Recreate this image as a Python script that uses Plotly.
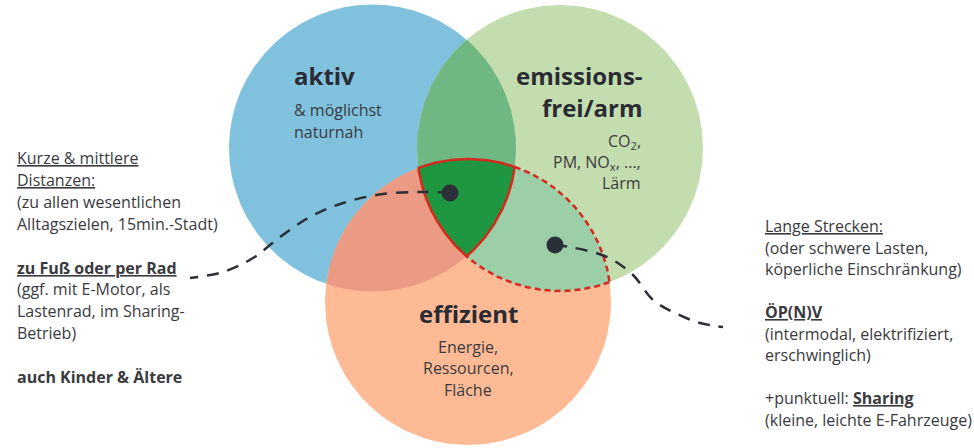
import numpy as np
import plotly.graph_objects as go

W, H = 974, 448

# ---- Venn sets (centre / radius in pixel space) ----
set_names = ["aktiv", "emissionsfrei/arm", "effizient"]
center_x = [372.5, 560.0, 468.0]
center_y = [148.0, 148.0, 302.0]
radius = [143.5, 143.0, 143.0]

# ---- Texts ----
title_aktiv = ["aktiv"]
sub_aktiv = ["&amp; möglichst", "naturnah"]
title_emis = ["emissions-", "frei/arm"]
sub_emis = ["CO<sub>2</sub>,", "PM, NO<sub>x</sub>, ...,", "Lärm"]
title_eff = ["effizient"]
sub_eff = ["Energie,", "Ressourcen,", "Fläche"]

U = "<span style='text-decoration:underline'>{}</span>"
left_lines = [
    U.format("Kurze &amp; mittlere"),
    U.format("Distanzen:"),
    "(zu allen wesentlichen",
    "Alltagszielen, 15min.-Stadt)",
    "",
    "<b>" + U.format("zu Fuß oder per Rad") + "</b>",
    "(ggf. mit E-Motor, als",
    "Lastenrad, im Sharing-",
    "Betrieb)",
    "",
    "<b>auch Kinder &amp; Ältere</b>",
]
right_lines = [
    U.format("Lange Strecken:"),
    "(oder schwere Lasten,",
    "köperliche Einschränkung)",
    "",
    "<b>" + U.format("ÖP(N)V") + "</b>",
    "(intermodal, elektrifiziert,",
    "erschwinglich)",
    "",
    "+punktuell: <b>" + U.format("Sharing") + "</b>",
    "(kleine, leichte E-Fahrzeuge)",
]

# connector paths (dot -> text)
left_conn_x = [450, 423, 383, 343, 310, 280, 253, 223, 190]
left_conn_y = [193, 192, 194, 203, 217, 237, 258, 272, 278]
right_conn_x = [555, 570, 607, 633, 653, 675, 700, 723]
right_conn_y = [245, 247, 257, 275, 300, 313, 323, 327]

# colours
C_BLUE = "#80c1de"
C_GREEN = "#c4ddaf"
C_ORANGE = "#fdba95"
C_BG = "#6fb884"
C_BO = "#eb9b84"
C_GO = "#9ccea8"
C_ALL = "#1f9741"
C_RED = "#d42a1e"
C_DARK = "#2b2f38"
C_TEXT = "#3a3a3e"
FONT = "Open Sans"

cx = np.array(center_x)
cy = np.array(center_y)
rr = np.array(radius)


def arc(i, inside=(), outside=(), n=2880):
    t = np.linspace(0, 2 * np.pi, n, endpoint=False)
    x = cx[i] + rr[i] * np.cos(t)
    y = cy[i] + rr[i] * np.sin(t)
    m = np.ones(n, bool)
    for j in inside:
        m &= (x - cx[j]) ** 2 + (y - cy[j]) ** 2 <= rr[j] ** 2
    for j in outside:
        m &= (x - cx[j]) ** 2 + (y - cy[j]) ** 2 > rr[j] ** 2
    if m.all():
        return x, y
    start = int(np.argmin(m))
    idx = np.roll(np.arange(n), -start)
    idx = idx[m[idx]]
    return x[idx], y[idx]


def region(members):
    xs, ys = [], []
    for i in members:
        others = [j for j in members if j != i]
        x, y = arc(i, inside=others)
        xs.append(x)
        ys.append(y)
    x = np.concatenate(xs)
    y = np.concatenate(ys)
    a = np.arctan2(y - y.mean(), x - x.mean())
    o = np.argsort(a)
    x, y = x[o], y[o]
    return np.append(x, x[0]), np.append(y, y[0])


fig = go.Figure()


def fill(x, y, color):
    fig.add_trace(go.Scatter(x=x, y=y, mode="lines", fill="toself", fillcolor=color,
                             line=dict(width=0, color=color), hoverinfo="skip"))


for i, col in enumerate([C_BLUE, C_GREEN, C_ORANGE]):
    x, y = arc(i)
    fill(np.append(x, x[0]), np.append(y, y[0]), col)

for mem, col in [((0, 1), C_BG), ((0, 2), C_BO), ((1, 2), C_GO), ((0, 1, 2), C_ALL)]:
    x, y = region(mem)
    fill(x, y, col)

# dashed outline of green∩orange minus blue
for i, ins in [(2, (1,)), (1, (2,))]:
    x, y = arc(i, inside=ins, outside=(0,))
    fig.add_trace(go.Scatter(x=x, y=y, mode="lines",
                             line=dict(color=C_RED, width=2.5, dash="6px,4px"),
                             hoverinfo="skip"))

# solid outline of triple intersection
x, y = region((0, 1, 2))
fig.add_trace(go.Scatter(x=x, y=y, mode="lines", line=dict(color=C_RED, width=2.5),
                         hoverinfo="skip"))

# connectors
for xs, ys in [(left_conn_x, left_conn_y), (right_conn_x, right_conn_y)]:
    fig.add_trace(go.Scatter(x=xs, y=ys, mode="lines",
                             line=dict(color=C_DARK, width=2.5, dash="12px,9px", shape="spline"),
                             hoverinfo="skip"))
fig.add_trace(go.Scatter(x=[left_conn_x[0], right_conn_x[0]], y=[left_conn_y[0], right_conn_y[0]],
                         mode="markers", marker=dict(size=17, color=C_DARK), hoverinfo="skip"))

ann = []


def add_lines(lines, x, y0, dy, anchor, size, bold=False, color=C_TEXT):
    for k, t in enumerate(lines):
        if not t:
            continue
        ann.append(dict(x=x, y=y0 + k * dy, xref="x", yref="y", text=("<b>%s</b>" % t) if bold else t,
                        showarrow=False, xanchor=anchor, yanchor="middle",
                        font=dict(family=FONT, size=size, color=color)))


add_lines(title_aktiv, 292, 75, 32, "left", 24, True, "#2a2b33")
add_lines(sub_aktiv, 292, 110, 21.5, "left", 16)
add_lines(title_emis, 645, 75, 32, "right", 24, True, "#2a2b33")
add_lines(sub_emis, 643, 141, 21, "right", 16)
add_lines(title_eff, 468, 313, 32, "center", 24, True, "#2a2b33")
add_lines(sub_eff, 468, 347, 21.3, "center", 16)
add_lines(left_lines, 15, 158, 21.9, "left", 16)
add_lines(right_lines, 763, 226, 21.55, "left", 16)

fig.update_layout(
    width=W, height=H, margin=dict(l=0, r=0, t=0, b=0),
    paper_bgcolor="white", plot_bgcolor="white", showlegend=False,
    xaxis=dict(range=[0, W], visible=False, fixedrange=True),
    yaxis=dict(range=[H, 0], visible=False, fixedrange=True),
    annotations=ann,
)

fig.write_html("out.html", config={"displayModeBar": False},
               post_script="document.body.style.margin='0';document.body.style.overflow='hidden';")
